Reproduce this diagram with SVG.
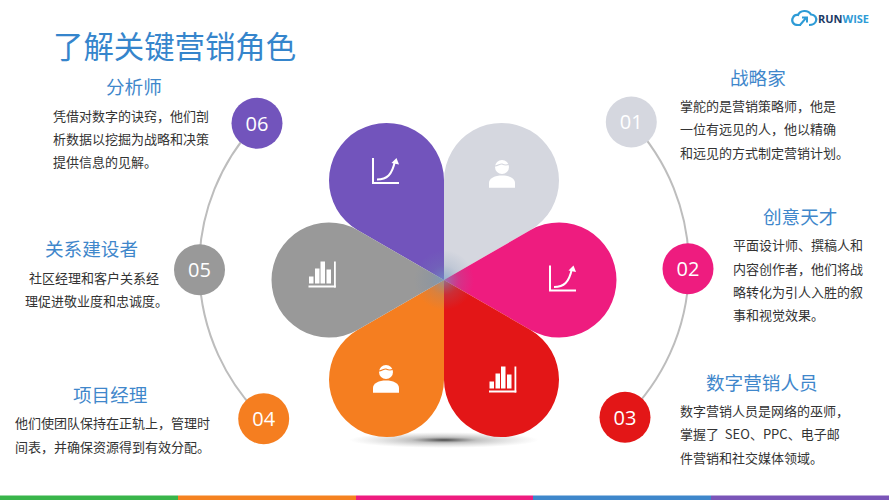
<svg xmlns="http://www.w3.org/2000/svg" width="889" height="500" viewBox="0 0 889 500">
<style>
text{font-family:"Noto Sans CJK SC","Noto Sans",sans-serif}
.title{font-size:30.4px;fill:#3585CC}
.head{font-size:18.6px;fill:#3F87CB}
.body{font-size:13px;fill:#333;white-space:pre}
.head,.body{transform:translateY(-1px)}
.num{font-family:"Open Sans",sans-serif;font-size:20px;fill:#fff;text-anchor:middle}
.arc{fill:none;stroke:#BDBDBD;stroke-width:2}
.line{fill:none;stroke:#fff;stroke-width:2}
.solid{fill:#fff}
.logo{font-family:"Open Sans",sans-serif;font-weight:700;font-size:11px}
</style>
<defs>
<path id="p" d="M444,280 L444,180 A57.5,57.5 0 1 0 357.4,230 Z"/>
<g id="growth">
<path class="line" d="M1,0 V25 H27"/>
<path class="line" d="M5,21.5 C15,21.5 20,17 23,3"/>
<path class="solid" d="M24.5,0 L27,6.5 L19.5,5 Z"/>
</g>
<g id="bars">
<rect class="solid" x="0.5" y="15" width="4.5" height="7"/>
<rect class="solid" x="6.5" y="7" width="4.5" height="15"/>
<rect class="solid" x="12" y="0" width="4.5" height="22"/>
<rect class="solid" x="18" y="8" width="4.5" height="14"/>
<rect class="solid" x="25.5" y="0" width="1.8" height="26"/>
<rect class="solid" x="0" y="24" width="27.3" height="2"/>
</g>
<g id="person">
<circle class="solid" cx="13" cy="7" r="7"/>
<path d="M6,6 C9,6 11,3.5 13,4 C15,5 18,5.5 20,4" fill="none" stroke="currentColor" stroke-width="1.1"/>
<path class="solid" d="M0,27.7 V23 C0,18 6,15.5 13,15.5 C20,15.5 26,18 26,23 V27.7 Z"/>
</g>
<radialGradient id="shadow"><stop offset="0" stop-color="#333" stop-opacity=".9"/><stop offset=".35" stop-color="#666" stop-opacity=".4"/><stop offset="1" stop-color="#999" stop-opacity="0"/></radialGradient>
<radialGradient id="glow"><stop offset="0" stop-color="#6F9CC8" stop-opacity=".65"/><stop offset=".5" stop-color="#6F8CB0" stop-opacity=".2"/><stop offset="1" stop-color="#6F8CB0" stop-opacity="0"/></radialGradient>
</defs>
<rect width="889" height="500" fill="#fff"/>
<ellipse cx="444" cy="440" rx="95" ry="8" fill="url(#shadow)"/>

<g id="flower">
<use href="#p" fill="#7254BC"/>
<use href="#p" fill="#D5D7DF" transform="rotate(60 444 280)"/>
<use href="#p" fill="#EE1C7F" transform="rotate(120 444 280)"/>
<use href="#p" fill="#E31617" transform="rotate(180 444 280)"/>
<use href="#p" fill="#F57E20" transform="rotate(240 444 280)"/>
<use href="#p" fill="#999999" transform="rotate(300 444 280)"/>
<circle cx="444" cy="280" r="30" fill="url(#glow)"/>
</g>
<g id="petal-icons">
<use href="#growth" x="372" y="158"/>
<use href="#person" x="489" y="160" color="#D5D7DF"/>
<use href="#growth" x="549" y="265.5"/>
<use href="#bars" x="489" y="366.5"/>
<use href="#person" x="373" y="365" color="#F57E20"/>
<use href="#bars" x="308.5" y="261.5"/>
</g>

<g id="connectors">
<path class="arc" d="M257,123 A210,210 0 0 0 263.7,419"/>
<path class="arc" d="M631.3,122 A210,210 0 0 1 625,417.3"/>
</g>

<text class="title" x="53" y="58">了解关键营销角色</text>

<g id="node-01">
<circle cx="631.3" cy="122" r="25.5" fill="#D5D7DF"/><text class="num" x="631.3" y="129">01</text>
<text class="head" x="730" y="85.5">战略家</text>
<text class="body" x="680" y="111.5">掌舵的是营销策略师，他是</text>
<text class="body" x="680" y="135">一位有远见的人，他以精确</text>
<text class="body" x="680" y="158.5">和远见的方式制定营销计划。</text>
</g>
<g id="node-02">
<circle cx="688" cy="268.7" r="25.5" fill="#EE1C7F"/><text class="num" x="688" y="276">02</text>
<text class="head" x="763" y="224.5">创意天才</text>
<text class="body" x="733" y="251">平面设计师、撰稿人和</text>
<text class="body" x="733" y="274.5">内容创作者，他们将战</text>
<text class="body" x="733" y="298">略转化为引人入胜的叙</text>
<text class="body" x="733" y="321">事和视觉效果。</text>
</g>
<g id="node-03">
<circle cx="625" cy="417.3" r="25.5" fill="#E31617"/><text class="num" x="625" y="424.5">03</text>
<text class="head" x="706" y="390.5">数字营销人员</text>
<text class="body" x="680" y="416.5">数字营销人员是网络的巫师，</text>
<text class="body" x="680" y="440">掌握了  SEO、PPC、电子邮</text>
<text class="body" x="680" y="463.5">件营销和社交媒体领域。</text>
</g>
<g id="node-04">
<circle cx="263.7" cy="418.7" r="25.5" fill="#F57E20"/><text class="num" x="263.7" y="426">04</text>
<text class="head" x="73" y="402.5">项目经理</text>
<text class="body" x="15" y="429">他们使团队保持在正轨上，管理时</text>
<text class="body" x="15" y="452.5">间表，并确保资源得到有效分配。</text>
</g>
<g id="node-05">
<circle cx="199.5" cy="269.7" r="25.5" fill="#999999"/><text class="num" x="199.5" y="277">05</text>
<text class="head" x="45" y="257">关系建设者</text>
<text class="body" x="29" y="284">社区经理和客户关系经</text>
<text class="body" x="25" y="306.5">理促进敬业度和忠诚度。</text>
</g>
<g id="node-06">
<circle cx="257" cy="123.3" r="25.5" fill="#7254BC"/><text class="num" x="257" y="130.5">06</text>
<text class="head" x="106" y="94.5">分析师</text>
<text class="body" x="53" y="121.5">凭借对数字的诀窍，他们剖</text>
<text class="body" x="53" y="145">析数据以挖掘为战略和决策</text>
<text class="body" x="53" y="168">提供信息的见解。</text>
</g>

<g id="logo">
<path d="M801,25 H798 C793,25 791,21 793,17.5 C794,15.5 796,14.5 798,15 C800,10 808,9.5 811,14.5 C815,14.5 817,18 816,21 C815,24 812,25 809,25" fill="none" stroke="#2E9BD6" stroke-width="2.2"/>
<path d="M800,25 L806,18 M802,17.5 H807 V22.5" fill="none" stroke="#2E9BD6" stroke-width="2"/>
<text class="logo" x="818" y="23"><tspan fill="#1C3A66">RUN</tspan><tspan fill="#2E9BD6">WISE</tspan></text>
</g>

<g id="footer">
<rect x="0" y="495.5" width="178" height="4.5" fill="#39B54A"/>
<rect x="178" y="495.5" width="178" height="4.5" fill="#F58220"/>
<rect x="356" y="495.5" width="177" height="4.5" fill="#EE1C7F"/>
<rect x="533" y="495.5" width="178" height="4.5" fill="#3E87CB"/>
<rect x="711" y="495.5" width="178" height="4.5" fill="#7A55B8"/>
</g>
</svg>
